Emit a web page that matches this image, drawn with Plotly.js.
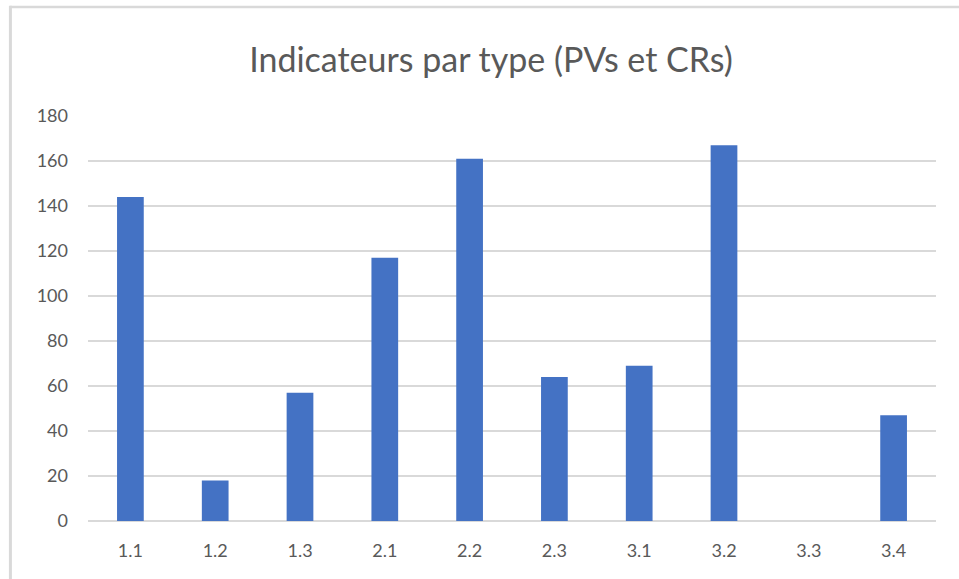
<!DOCTYPE html>
<html>
<head>
<meta charset="utf-8">
<script src="https://cdn.plot.ly/plotly-3.0.1.min.js"></script>
<style>
  html, body { margin: 0; padding: 0; background: #ffffff; }
  #chart { width: 959px; height: 579px; }
</style>
</head>
<body>
<div id="chart"></div>
<script>
const categories = ["1.1", "1.2", "1.3", "2.1", "2.2", "2.3", "3.1", "3.2", "3.3", "3.4"];
const values = [144, 18, 57, 117, 161, 64, 69, 167, 0, 47];
const yTicks = [0, 20, 40, 60, 80, 100, 120, 140, 160, 180];
const titleText = "Indicateurs par type (PVs et CRs)";

const textColor = "#595959";
const gridColor = "#d9d9d9";
const fontFamily = "Lato, 'Open Sans', sans-serif";

const trace = {
  type: "bar",
  x: categories,
  y: values,
  marker: { color: "#4472C4", line: { width: 0 } },
  hoverinfo: "x+y"
};

const layout = {
  width: 959,
  height: 579,
  margin: { l: 88, r: 23, t: 116, b: 58 },
  paper_bgcolor: "#ffffff",
  plot_bgcolor: "#ffffff",
  bargap: 0.685,
  showlegend: false,
  font: { family: fontFamily, color: textColor },
  title: {
    text: titleText,
    font: { family: fontFamily, size: 34, color: textColor },
    x: 0.512,
    xanchor: "center",
    y: 0.897,
    yanchor: "middle"
  },
  xaxis: {
    type: "category",
    tickfont: { family: fontFamily, size: 18, color: textColor },
    showgrid: false,
    showline: false,
    zeroline: false,
    ticks: "",
    ticklabelstandoff: 17
  },
  yaxis: {
    range: [0, 180],
    tickvals: yTicks,
    ticktext: yTicks.map(String),
    tickfont: { family: fontFamily, size: 18, color: textColor },
    showgrid: true,
    gridcolor: gridColor,
    gridwidth: 2,
    zeroline: true,
    zerolinecolor: gridColor,
    zerolinewidth: 2,
    showline: false,
    ticks: "",
    ticklabelstandoff: 19
  },
  shapes: [
    { type: "line", xref: "paper", yref: "paper", x0: -0.092, x1: 1.1, y0: 1.269, y1: 1.269,
      line: { color: "#d9d9d9", width: 2.5 }, layer: "below" },
    { type: "line", xref: "paper", yref: "paper", x0: -0.0915, x1: -0.0915, y0: 1.272, y1: -0.2,
      line: { color: "#d9d9d9", width: 3 }, layer: "below" }
  ]
};

Plotly.newPlot("chart", [trace], layout, { displayModeBar: false, staticPlot: true });
</script>
</body>
</html>
